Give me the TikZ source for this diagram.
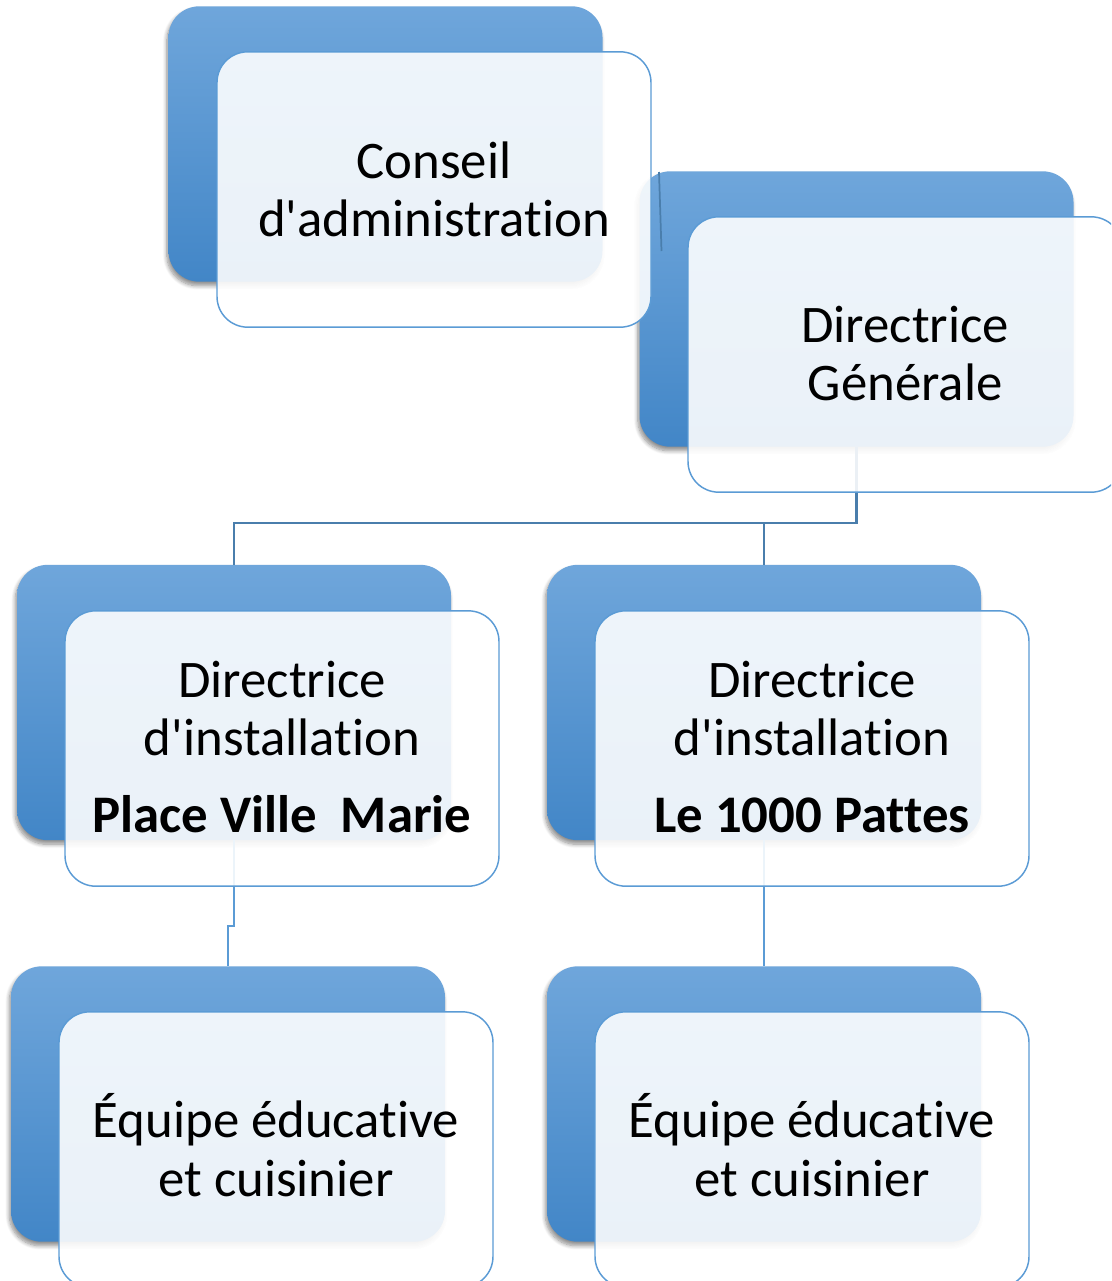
\documentclass[tikz,border=0pt]{standalone}
\usepackage{fontspec}
% plain family: straight apostrophes and no "ti" ligature
\newfontfamily\cardfont{Carlito}[Ligatures=NoCommon]
\usetikzlibrary{shadows.blur}
\definecolor{backtop}{RGB}{111,166,219}
\definecolor{backmid}{RGB}{84,153,216}
\definecolor{backbot}{RGB}{66,134,199}
\definecolor{frameblue}{RGB}{91,155,213}
\definecolor{linkblue}{RGB}{74,126,172}
\begin{document}
\begin{tikzpicture}[x=0.75pt,y=-0.75pt,
  backbox/.style={rectangle, rounded corners=23pt, inner sep=0pt, outer sep=0pt,
    minimum width=325.5pt, minimum height=206.5pt,
    top color=backtop, middle color=backmid, bottom color=backbot, draw=none,
    blur shadow={shadow xshift=-1.2pt, shadow yshift=-3pt, shadow opacity=45,
      shadow blur steps=8, shadow blur radius=3pt}},
  frontbox/.style={rectangle, rounded corners=23pt, inner sep=0pt, outer sep=0pt,
    minimum width=325.5pt, minimum height=206.5pt,
    fill=white, fill opacity=0.89, draw=frameblue, draw opacity=1, line width=1.1pt},
  label/.style={font=\cardfont\fontsize{39.6}{43.5}\selectfont, text=black, align=center,
    inner sep=0pt, anchor=base},
  link/.style={draw=linkblue, line width=1.8pt}
]
\useasboundingbox (0,0) rectangle (1111,1281);
\clip (0,0) rectangle (1111,1281);

% back plates
\node[backbox] (cab)  at (385.5,144) {};
\node[backbox] (dgb)  at (856.5,309) {};
\node[backbox] (pvmb) at (234,702.5) {};
\node[backbox] (l1b)  at (764,702.5) {};
\node[backbox] (eqlb) at (228,1104) {};
\node[backbox] (eqrb) at (764,1104) {};

% connectors
\coordinate (bus) at (0,523);
\coordinate (jog) at (0,926);
\draw[link] (dgb.south) -- (dgb.south |- bus) -- (pvmb.north |- bus) -- (pvmb.north);
\draw[link] (l1b.north |- bus) -- (l1b.north);
\draw[link, draw=frameblue] (pvmb.south) -- (pvmb.south |- jog) -- (eqlb.north |- jog) -- (eqlb.north);
\draw[link, draw=frameblue] (l1b.south) -- (eqrb.north);
\coordinate (tickA) at (659,172);
\coordinate (tickB) at (661.5,251);
\draw[link, line width=1.3pt] (tickA) -- (tickB);

% front cards
\node[frontbox] (caf)  at (434,189.5) {};
\node[frontbox] (dgf)  at (905,354.5) {};
\node[frontbox] (pvmf) at (282,748.5) {};
\node[frontbox] (l1f)  at (812,748.5) {};
\node[frontbox] (eqlf) at (276,1149.5) {};
\node[frontbox] (eqrf) at (812,1149.5) {};

% texts
\node[label] (ca1) at (434,178) {Conseil};
\node[label] (ca2) at (434,236) {d'administration};
\node[label] (dg1) at (905,342) {Directrice};
\node[label] (dg2) at (905,400) {Générale};
\node[label] (pv1) at (282,697) {Directrice};
\node[label] (pv2) at (282,755) {d'installation};
\node[label] (pv3) at (282,832) {\bfseries Place Ville\ \ Marie};
\node[label] (lp1) at (812,697) {Directrice};
\node[label] (lp2) at (812,755) {d'installation};
\node[label] (lp3) at (812,832) {\bfseries Le 1000 Pattes};
\node[label] (el1) at (276,1137) {Équipe éducative};
\node[label] (el2) at (276,1196) {et cuisinier};
\node[label] (er1) at (812,1137) {Équipe éducative};
\node[label] (er2) at (812,1196) {et cuisinier};
\end{tikzpicture}
\end{document}
